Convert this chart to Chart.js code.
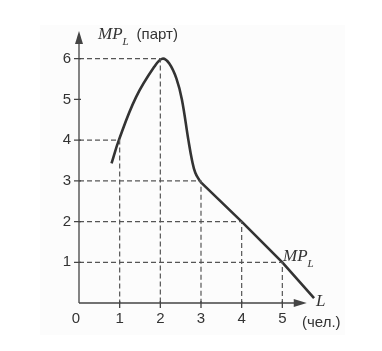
<!DOCTYPE html>
<html>
<head>
<meta charset="utf-8">
<script src="https://cdn.jsdelivr.net/npm/chart.js@4.4.1/dist/chart.umd.min.js"></script>
<style>
  html, body { margin: 0; padding: 0; background: #fff; }
  #wrap { width: 382px; height: 351px; position: relative; }
</style>
</head>
<body>
<div id="wrap"><canvas id="myChart" width="382" height="351"></canvas></div>
<script>
// MP_L curve
const curveX = [0.8, 0.98, 1.4, 1.85, 2.05, 2.22, 2.4, 2.53, 2.69, 2.78, 2.86, 2.98];
const curveY = [3.43, 4.0, 5.05, 5.8, 6.0, 5.88, 5.5, 5.0, 4.0, 3.5, 3.2, 2.98];
const tailX = [2.98, 4.0, 5.0, 5.78];
const tailY = [2.98, 2.0, 1.0, 0.12];

// dashed guide lines
const guideX = [1, 2, 3, 4, 5];
const guideY = [4, 6, 3, 2, 1];

const xTicks = [0, 1, 2, 3, 4, 5];
const yTicks = [1, 2, 3, 4, 5, 6];

const lineColor = '#333';
const guideColor = '#555';

const pts = (xs, ys) => xs.map((x, i) => ({ x: x, y: ys[i] }));

const datasets = [];
guideX.forEach((gx, i) => {
  datasets.push({
    data: [{ x: 0, y: guideY[i] }, { x: gx, y: guideY[i] }, { x: gx, y: 0 }],
    borderColor: guideColor,
    borderWidth: 1.2,
    borderDash: [5, 3],
    pointRadius: 0,
    tension: 0
  });
});
datasets.push({
  data: pts(curveX, curveY),
  borderColor: lineColor,
  borderWidth: 2.6,
  pointRadius: 0,
  tension: 0.4
});
datasets.push({
  data: pts(tailX, tailY),
  borderColor: lineColor,
  borderWidth: 2.6,
  pointRadius: 0,
  tension: 0
});

const axesPlugin = {
  id: 'axes',
  beforeDraw(chart) {
    const c = chart.ctx;
    c.save();
    c.fillStyle = '#fcfcfc';
    c.fillRect(40, 25, 305, 310);
    c.restore();
  },
  afterDraw(chart) {
    const c = chart.ctx;
    const xs = chart.scales.x, ys = chart.scales.y;
    const ox = xs.getPixelForValue(0), oy = ys.getPixelForValue(0);
    const xEnd = xs.getPixelForValue(5.6), yEnd = ys.getPixelForValue(6.68);
    c.save();
    c.strokeStyle = '#444';
    c.fillStyle = '#444';
    c.lineWidth = 1.3;
    // axes
    c.beginPath();
    c.moveTo(ox, oy); c.lineTo(ox, yEnd + 10);
    c.moveTo(ox, oy); c.lineTo(xEnd - 10, oy);
    c.stroke();
    // arrowheads
    c.beginPath();
    c.moveTo(ox, yEnd); c.lineTo(ox - 4, yEnd + 13); c.lineTo(ox + 4, yEnd + 13); c.closePath();
    c.fill();
    c.beginPath();
    c.moveTo(xEnd, oy); c.lineTo(xEnd - 13, oy - 4); c.lineTo(xEnd - 13, oy + 4); c.closePath();
    c.fill();
    // ticks
    c.beginPath();
    yTicks.forEach(v => {
      const py = ys.getPixelForValue(v);
      c.moveTo(ox - 5, py); c.lineTo(ox + 2, py);
    });
    xTicks.slice(1).forEach(v => {
      const px = xs.getPixelForValue(v);
      c.moveTo(px, oy - 2); c.lineTo(px, oy + 5);
    });
    c.stroke();
    // tick labels
    c.fillStyle = '#333';
    c.font = '15px "Liberation Sans", Arial, sans-serif';
    c.textAlign = 'center';
    c.textBaseline = 'middle';
    yTicks.forEach(v => {
      c.fillText(String(v), ox - 12, ys.getPixelForValue(v));
    });
    xTicks.forEach(v => {
      const px = v === 0 ? ox - 3 : xs.getPixelForValue(v);
      c.fillText(String(v), px, oy + 16);
    });
    // axis titles
    const mp = (x, y) => {
      c.textAlign = 'left';
      c.font = 'italic 17px "Liberation Serif", "Times New Roman", serif';
      c.fillText('MP', x, y);
      const w = c.measureText('MP').width;
      c.font = 'italic 11px "Liberation Serif", "Times New Roman", serif';
      c.fillText('L', x + w, y + 7);
      return w + 7;
    };
    const w1 = mp(98, 35);
    c.font = '15px "Liberation Sans", Arial, sans-serif';
    c.fillText('(парт)', 98 + w1 + 7, 35);
    mp(283, 257);
    c.font = 'italic 17px "Liberation Serif", "Times New Roman", serif';
    c.fillText('L', 316, 302);
    c.font = '15px "Liberation Sans", Arial, sans-serif';
    c.fillText('(чел.)', 302, 323);
    c.restore();
  }
};

new Chart(document.getElementById('myChart'), {
  type: 'line',
  data: { datasets: datasets },
  options: {
    responsive: false,
    animation: false,
    events: [],
    layout: { padding: { left: 79, right: 59, top: 18, bottom: 48 } },
    plugins: { legend: { display: false }, tooltip: { enabled: false } },
    scales: {
      x: { type: 'linear', min: 0, max: 6, display: false },
      y: { type: 'linear', min: 0, max: 7, display: false }
    }
  },
  plugins: [axesPlugin]
});
</script>
</body>
</html>
